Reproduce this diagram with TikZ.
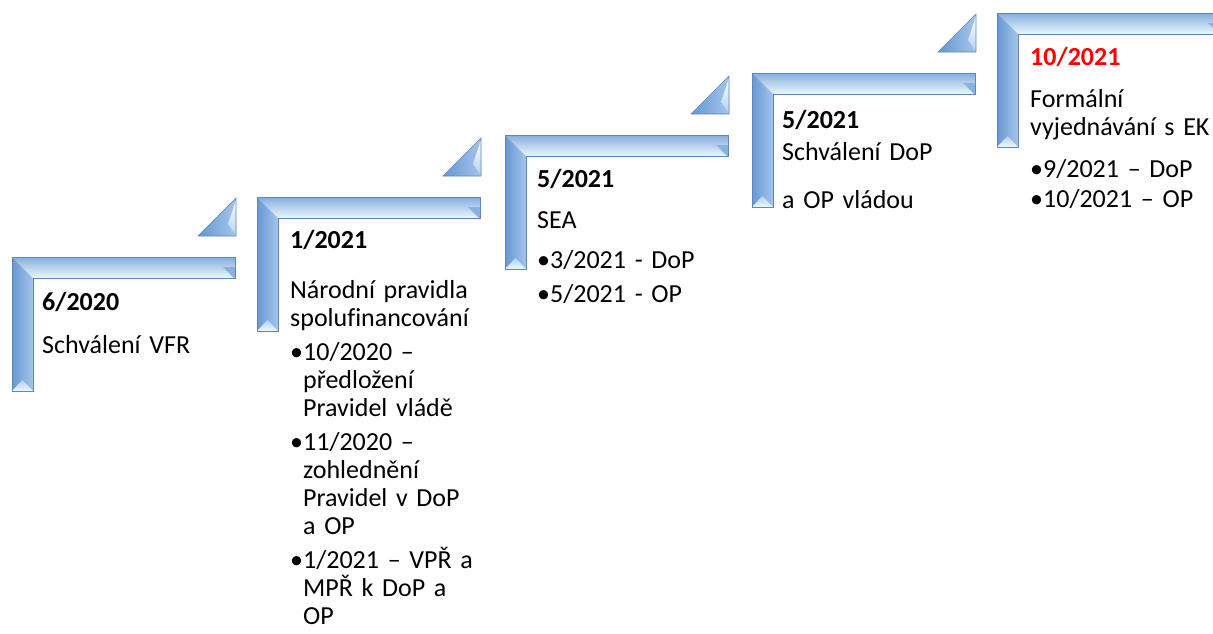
\documentclass[tikz,border=0pt]{standalone}
\usepackage{fontspec}
\setmainfont{Carlito}[Ligatures=NoCommon]
\usepackage{tikz}
\usetikzlibrary{positioning,calc}

\definecolor{barline}{HTML}{5F87B9}
\definecolor{bartop}{HTML}{86ADDD}
\definecolor{barmid}{HTML}{B3D2F1}
\definecolor{barlow}{HTML}{EAF8FF}
\definecolor{barleft}{HTML}{6797D2}
\definecolor{barright}{HTML}{A4C5EB}
\definecolor{barend}{HTML}{8AB1DF}
\definecolor{datered}{HTML}{FF0000}

\tikzset{
  date/.style={anchor=base west, inner sep=0pt, font=\fontsize{26}{28}\selectfont\bfseries},
  body/.style={anchor=base west, inner sep=0pt, text width=200pt, align=left,
               font=\fontsize{26}{28}\selectfont},
}

% L-shaped bevelled bar of one step
\newcommand{\stepbar}[1]{%
\begin{scope}[shift={(#1)}]
  \shade[top color=bartop, middle color=barmid, bottom color=barlow]
    (0,0) -- (223,0) -- (223,21) -- (21,21) -- cycle;
  \fill[barend] (211,10) -- (223,10) -- (223,21) -- (222,21) -- cycle;
  \shade[left color=barleft, right color=barright]
    (0,0) -- (21,21) -- (21,134) -- (0,134) -- cycle;
  \shade[top color=barmid, bottom color=barlow]
    (10.5,123) -- (21,134) -- (0,134) -- cycle;
  \draw[barline, line width=0.8pt]
    (0,0) -- (223,0) -- (223,21) -- (21,21) -- (21,134) -- (0,134) -- cycle;
\end{scope}}

% small triangle above the right end of a step
\newcommand{\steptri}[1]{%
\begin{scope}[shift={(#1)}]
  \shade[left color=barleft, right color=barright]
    (186,-21) -- (224,-21) -- (224,-59) -- cycle;
  \shade[top color=white, bottom color=barmid]
    (224,-57) -- (224,-22) -- (216,-33) -- cycle;
  \draw[barline, line width=0.6pt] (186,-21) -- (224,-21) -- (224,-59) -- cycle;
\end{scope}}

\begin{document}
\begin{tikzpicture}[x=1pt, y=-1pt]
\useasboundingbox (0,0) rectangle (1213,633);

\coordinate (s1) at (12,257);
\coordinate (s2) at (257,197);
\coordinate (s3) at (505,135);
\coordinate (s4) at (752,73);
\coordinate (s5) at (997,13);

\stepbar{s1} \steptri{s1}
\stepbar{s2} \steptri{s2}
\stepbar{s3} \steptri{s3}
\stepbar{s4} \steptri{s4}
\stepbar{s5}

\node[date] (d1) at (42,310)  {6/2020};
\node[body] (t1) at (42,353)  {Schválení VFR};

\node[date] (d2) at (290,248) {1/2021};
\node[body] (t2) at (290,298) {Národní pravidla\\
  spolufinancování\\[6pt]
  •10/2020 –\\ \hphantom{•}předložení\\ \hphantom{•}Pravidel vládě\\[6pt]
  •11/2020 –\\ \hphantom{•}zohlednění\\ \hphantom{•}Pravidel v DoP\\ \hphantom{•}a OP\\[6pt]
  •1/2021 – VPŘ a\\ \hphantom{•}MPŘ k DoP a\\ \hphantom{•}OP};

\node[date] (d3) at (537,187) {5/2021};
\node[body] (t3) at (537,228) {SEA\\[12pt] •3/2021 - DoP\\[6pt] •5/2021 - OP};

\node[date] (d4) at (782,128) {5/2021};
\node[body] (t4) at (782,160) {Schválení DoP\\[20pt] a OP vládou};

\node[date, text=datered] (d5) at (1030,65) {10/2021};
\node[body] (t5) at (1030,107) {Formální\\ vyjednávání s EK\\[14pt]
  •9/2021 – DoP\\[2pt] •10/2021 – OP};

\end{tikzpicture}
\end{document}
